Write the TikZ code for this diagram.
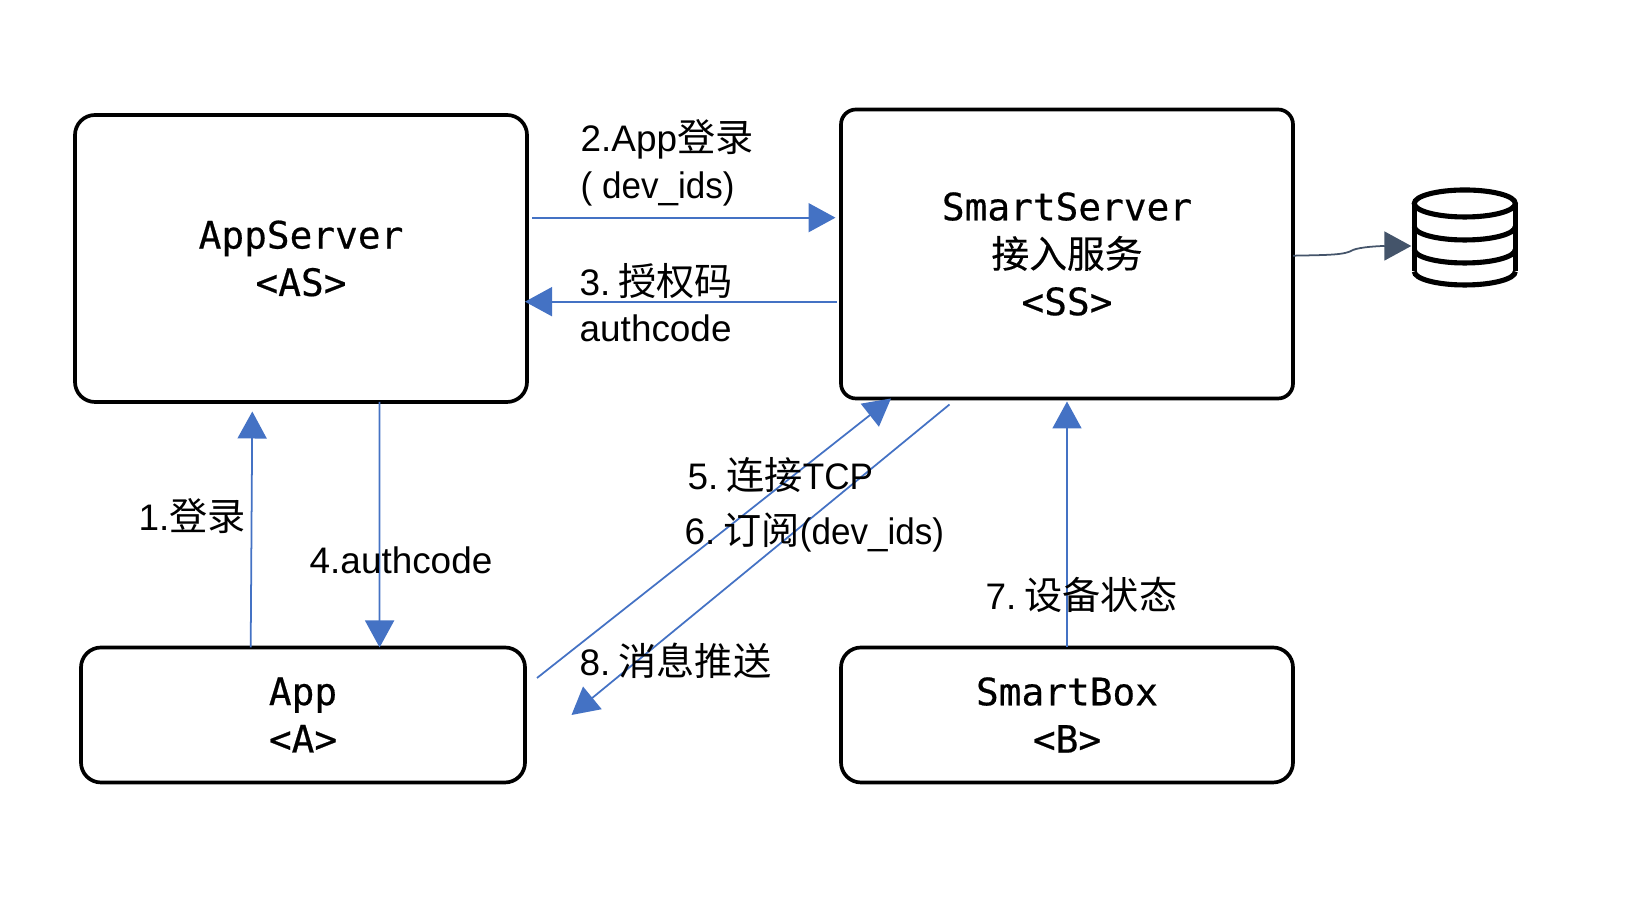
\documentclass[tikz,border=0pt]{standalone}
\usepackage{fontspec}
\usetikzlibrary{arrows.meta}
\setmainfont{Liberation Sans}
\newfontfamily\cjk[Scale=1.035]{Noto Sans CJK SC}
\newfontfamily\boxcjk[FakeBold=0.3]{Noto Sans CJK SC}
\newfontfamily\boxfont[FakeBold=0.5]{DejaVu Sans Mono}
\newfontfamily\narrowfont[FakeStretch=0.95]{Liberation Sans}
\definecolor{flowblue}{HTML}{4472C4}
\definecolor{dbslate}{HTML}{44546A}
\tikzset{
    boxnode/.style={draw=black,line width=1.05pt,rounded corners=0.2cm,outer sep=0pt,align=center,
        font=\fontsize{10.75pt}{13.5pt}\boxfont},
    flow/.style={draw=flowblue,line width=0.5pt,-{Triangle[length=2.7mm,width=2.9mm]}},
    dbflow/.style={draw=dbslate,line width=0.5pt,-{Triangle[length=2.7mm,width=2.9mm]}},
    dbline/.style={draw=black,line width=1.45pt},
    stepnote/.style={inner sep=0pt,align=left,font=\fontsize{10.5pt}{12.9pt}\selectfont}
}

\begin{document}
\begin{tikzpicture}
        \useasboundingbox (0,0) rectangle (16.42,9.10);
        \node[boxnode,minimum width=4.52cm,minimum height=2.87cm] (appserver) at (3.01,6.515) {AppServer\\<AS>};
        \node[boxnode,minimum width=4.52cm,minimum height=2.89cm,rounded corners=0.15cm] (smartserver) at (10.67,6.56) {SmartServer\\{\boxcjk 接入服务}\\<SS>};
        \node[boxnode,minimum width=4.44cm,minimum height=1.35cm] (app) at (3.03,1.95) {App\\<A>};
        \node[boxnode,minimum width=4.52cm,minimum height=1.35cm] (smartbox) at (10.67,1.95) {SmartBox\\<B>};
        \node[inner sep=0pt,outer sep=0pt,minimum width=1.01cm,minimum height=0.95cm] (db) at (14.648,6.725) {};

        \draw[dbline] ([yshift=-0.135cm]db.north) ellipse (0.505 and 0.135);
        \draw[dbline] ([yshift=-0.135cm]db.north west) -- ([yshift=-0.815cm]db.north west);
        \draw[dbline] ([yshift=-0.135cm]db.north east) -- ([yshift=-0.815cm]db.north east);
        \foreach \dy in {0.365,0.595,0.815}
            \draw[dbline] ([yshift=-\dy cm]db.north west) arc (180:360:0.505 and 0.135);

        \draw[flow] ([xshift=0.05cm,yshift=0.408cm]appserver.east) -- ([xshift=-0.055cm,yshift=0.363cm]smartserver.west);
        \draw[flow] ([xshift=-0.045cm,yshift=-0.477cm]smartserver.west) -- ([xshift=-0.02cm,yshift=-0.432cm]appserver.east);
        \draw[flow] ([xshift=-0.523cm]app.north) -- ([xshift=-0.487cm,yshift=-0.095cm]appserver.south);
        \draw[flow] ([xshift=0.786cm]appserver.south) -- ([xshift=0.766cm]app.north);
        \draw[flow] ([xshift=0.12cm,yshift=0.37cm]app.east) -- ([xshift=-1.76cm]smartserver.south);
        \draw[flow] ([xshift=-1.175cm,yshift=-0.06cm]smartserver.south) -- ([xshift=0.465cm]app.east);
        \draw[flow] (smartbox.north) -- ([yshift=-0.03cm]smartserver.south);
        \draw[dbflow] ([yshift=-0.017cm]smartserver.east) .. controls (13.30,6.55) and (13.45,6.55) .. (13.53,6.60) .. controls (13.60,6.63) and (13.80,6.64) .. ([xshift=-0.03cm,yshift=-0.085cm]db.west);

        \node[stepnote,anchor=base west] (login) at (1.38,3.79) {1.{\cjk 登录}};
        \node[stepnote,anchor=base west] (applogin) at (5.80,7.58) {2.App{\cjk 登录}};
        \node[stepnote,anchor=base west] (devids) at (5.80,7.11) {\narrowfont ( dev\_ids)};
        \node[stepnote,anchor=base west] (grant) at (5.79,6.14) {3.\kern0.22em{\cjk 授权码}};
        \node[stepnote,anchor=base west] (grantcode) at (5.79,5.68) {authcode};
        \node[stepnote,anchor=base west] (passcode) at (3.09,3.365) {4.authcode};
        \node[stepnote,anchor=base west] (connect) at (6.87,4.20) {5.\kern0.22em{\cjk 连接}{\narrowfont TCP}};
        \node[stepnote,anchor=base west] (subscribe) at (6.84,3.65) {6.\kern0.22em{\cjk 订阅}{\narrowfont (dev\_ids)}};
        \node[stepnote,anchor=base west] (status) at (9.85,3.00) {7.\kern0.22em{\cjk 设备状态}};
        \node[stepnote,anchor=base west] (push) at (5.79,2.34) {8.\kern0.22em{\cjk 消息推送}};
\end{tikzpicture}
\end{document}
